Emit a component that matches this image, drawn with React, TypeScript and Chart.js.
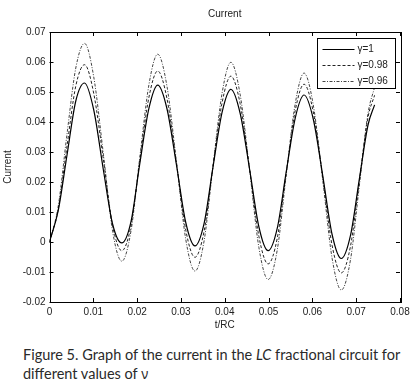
import React, { useEffect, useRef } from "react";
import { Chart, registerables } from "chart.js";
Chart.register(...registerables);

const times = [0, 0.0020, 0.0040, 0.0060, 0.0080, 0.0101, 0.0123, 0.0144, 0.0165, 0.0186, 0.0206, 0.0227, 0.0247, 0.0268, 0.0290, 0.0311, 0.0332, 0.0353, 0.0373, 0.0394, 0.0414, 0.0435, 0.0457, 0.0478, 0.0499, 0.0520, 0.0540, 0.0561, 0.0581, 0.0602, 0.0624, 0.0645, 0.0666, 0.0687, 0.0707, 0.0727, 0.0742];

const gamma1 = [0, 0.0105, 0.029, 0.047, 0.053,
  0.044, 0.024, 0.006, -0.0003,
  0.0068, 0.026, 0.0446, 0.0523,
  0.0445, 0.0255, 0.0065, -0.0013,
  0.0063, 0.0248, 0.0433, 0.0509,
  0.0430, 0.0240, 0.0050, -0.0029,
  0.0047, 0.0231, 0.0414, 0.0490,
  0.0410, 0.0218, 0.0025, -0.0055,
  0.0022, 0.0208, 0.0390, 0.0457];

const gamma098 = [0, 0.011, 0.032, 0.052, 0.0591,
  0.0495, 0.0275, 0.0055, -0.0029,
  0.0055, 0.0271, 0.0483, 0.0570,
  0.0479, 0.0260, 0.0040, -0.0051,
  0.0037, 0.0251, 0.0465, 0.0553,
  0.0462, 0.0240, 0.0018, -0.0073,
  0.0014, 0.0227, 0.0439, 0.0526,
  0.0434, 0.0212, -0.0011, -0.0103,
  -0.0014, 0.0201, 0.0416, 0.0489];

const gamma096 = [0, 0.012, 0.036, 0.058, 0.0662,
  0.0550, 0.0293, 0.0036, -0.0064,
  0.0037, 0.0281, 0.0525, 0.0626,
  0.0520, 0.0265, 0.0009, -0.0097,
  0.0005, 0.0251, 0.0497, 0.0599,
  0.0493, 0.0237, -0.0019, -0.0125,
  -0.0025, 0.0219, 0.0462, 0.0563,
  0.0457, 0.0202, -0.0054, -0.0160,
  -0.0059, 0.0185, 0.0429, 0.0516];

const seriesLabels = ["γ=1", "γ=0.98", "γ=0.96"];
const xRange = [0, 0.08];
const yRange = [-0.02, 0.07];
const tickStep = 0.01;

const FONT = "'Liberation Sans', Arial, sans-serif";

const fmt = (v: number) => {
  const r = Math.round(v * 100) / 100;
  return r === 0 ? "0" : r.toFixed(2);
};

export default function App() {
  const ref = useRef<HTMLCanvasElement>(null);
  useEffect(() => {
    const canvas = ref.current!;
    const frame = {
      id: "frame",
      afterDatasetsDraw(chart: any) {
        const { ctx, chartArea: a, scales } = chart;
        ctx.save();
        ctx.strokeStyle = "#000";
        ctx.lineWidth = 1;
        ctx.setLineDash([]);
        ctx.beginPath();
        const L = 4;
        scales.x.ticks.forEach((t: any) => {
          const px = Math.round(scales.x.getPixelForValue(t.value)) + 0.5;
          ctx.moveTo(px, a.bottom); ctx.lineTo(px, a.bottom - L);
          ctx.moveTo(px, a.top); ctx.lineTo(px, a.top + L);
        });
        scales.y.ticks.forEach((t: any) => {
          const py = Math.round(scales.y.getPixelForValue(t.value)) + 0.5;
          ctx.moveTo(a.left, py); ctx.lineTo(a.left + L, py);
          ctx.moveTo(a.right, py); ctx.lineTo(a.right - L, py);
        });
        ctx.stroke();
        ctx.strokeRect(Math.round(a.left) + 0.5, Math.round(a.top) + 0.5, Math.round(a.right - a.left), Math.round(a.bottom - a.top));

        // legend
        const w = 78, h = 50;
        const x0 = Math.round(a.right - 5 - w) + 0.5, y0 = Math.round(a.top + 6) + 0.5;
        ctx.fillStyle = "#fff";
        ctx.fillRect(x0, y0, w, h);
        ctx.strokeRect(x0, y0, w, h);
        chart.data.datasets.forEach((ds: any, i: number) => {
          const ly = Math.round(y0 + 10 + i * 16.2) + 0.5;
          ctx.beginPath();
          ctx.strokeStyle = ds.borderColor;
          ctx.lineWidth = ds.borderWidth;
          ctx.setLineDash(ds.borderDash || []);
          ctx.moveTo(x0 + 5, ly); ctx.lineTo(x0 + 37, ly);
          ctx.stroke();
          ctx.setLineDash([]);
          ctx.fillStyle = "#222";
          ctx.font = `10px ${FONT}`;
          ctx.textBaseline = "middle";
          ctx.textAlign = "left";
          ctx.fillText(ds.label, x0 + 40, ly);
        });
        ctx.restore();
      },
    };
    const mk = (vals: number[]) => times.map((t, i) => ({ x: t, y: vals[i] }));
    const chart = new Chart(canvas, {
      type: "line",
      data: {
        datasets: [
          { label: seriesLabels[0], data: mk(gamma1), borderColor: "#000", borderWidth: 1.2, borderDash: [], pointRadius: 0, cubicInterpolationMode: "monotone", fill: false },
          { label: seriesLabels[1], data: mk(gamma098), borderColor: "#222", borderWidth: 1, borderDash: [3, 2], pointRadius: 0, cubicInterpolationMode: "monotone", fill: false },
          { label: seriesLabels[2], data: mk(gamma096), borderColor: "#444", borderWidth: 1, borderDash: [3, 1.5, 1, 1.5], pointRadius: 0, cubicInterpolationMode: "monotone", fill: false },
        ],
      },
      options: {
        animation: false,
        responsive: false,
        events: [],
        layout: { padding: { left: 0, right: 17, top: 0, bottom: 0 } },
        plugins: {
          legend: { display: false },
          tooltip: { enabled: false },
          title: {
            display: true,
            text: "Current",
            fullSize: false,
            color: "#222",
            font: { size: 10, family: FONT, weight: "normal" },
            padding: { top: 8, bottom: 12 },
          },
        },
        scales: {
          x: {
            type: "linear",
            min: xRange[0],
            max: xRange[1],
            grid: { display: false, drawTicks: false },
            border: { display: false },
            ticks: { stepSize: tickStep, padding: 4, color: "#222", font: { size: 10, family: FONT }, callback: (v: any) => fmt(Number(v)), maxRotation: 0, autoSkip: false },
            title: { display: true, text: "t/RC", color: "#222", font: { size: 10, family: FONT }, padding: { top: 0, bottom: 9 } },
            afterFit: (s: any) => { s.height = 38; },
          },
          y: {
            type: "linear",
            min: yRange[0],
            max: yRange[1],
            grid: { display: false, drawTicks: false },
            border: { display: false },
            ticks: { stepSize: tickStep, padding: 4, color: "#222", font: { size: 10, family: FONT }, callback: (v: any) => fmt(Number(v)), autoSkip: false },
            title: { display: true, text: "Current", color: "#222", font: { size: 10, family: FONT }, padding: { top: 2, bottom: 0 } },
            afterFit: (s: any) => { s.width = 49.5; },
          },
        },
      },
      plugins: [frame],
    } as any);
    return () => chart.destroy();
  }, []);
  return (
    <div style={{ position: "fixed", left: 0, top: 0, width: 417, height: 379, background: "#fff", overflow: "hidden" }}>
      <canvas ref={ref} width={417} height={340} style={{ display: "block", width: 417, height: 340 }} />
      <div style={{ position: "absolute", left: 23, top: 346, fontFamily: "Lato, 'Open Sans', sans-serif", fontSize: 14.5, lineHeight: "18.5px", color: "#2a2a2a", whiteSpace: "nowrap" }}>
        Figure 5. Graph of the current in the <i>LC</i> fractional circuit for<br />different values of <span style={{ fontFamily: "'Noto Sans', 'DejaVu Sans', sans-serif", fontSize: 13.5 }}>γ</span>
      </div>
    </div>
  );
}
